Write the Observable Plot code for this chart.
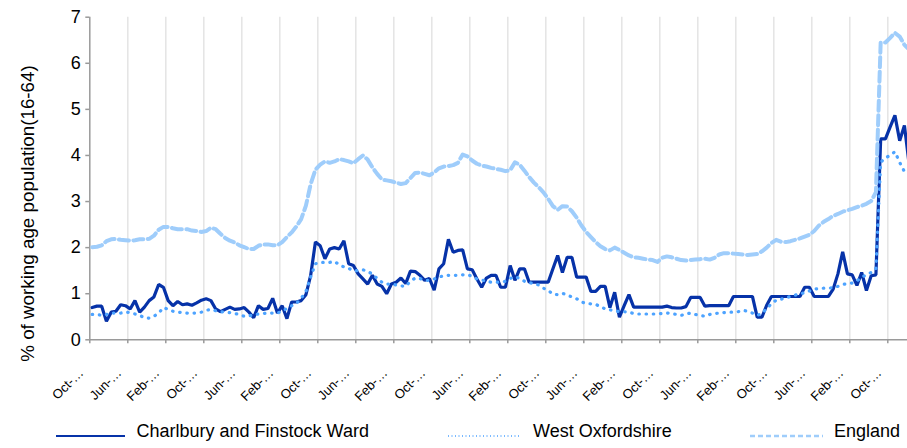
<!DOCTYPE html>
<html><head><meta charset="utf-8">
<script src="https://cdn.jsdelivr.net/npm/d3@7"></script>
<script src="https://cdn.jsdelivr.net/npm/@observablehq/plot@0.6"></script>
<style>
html,body{margin:0;padding:0;background:#fff;width:907px;height:448px;overflow:hidden;font-family:"Liberation Sans",Arial,sans-serif;}
#chart{position:absolute;left:0;top:0;}
#legend{position:absolute;left:0;top:412px;}
</style></head><body>
<div id="chart"></div>
<svg id="legend" width="907" height="36"></svg>
<script>
// Month categories are monthly; labels shown every 8 months
const tickLabels = ["Oct-…","Jun-…","Feb-…","Oct-…","Jun-…","Feb-…","Oct-…","Jun-…","Feb-…","Oct-…","Jun-…",
                    "Feb-…","Oct-…","Jun-…","Feb-…","Oct-…","Jun-…","Feb-…","Oct-…","Jun-…","Feb-…","Oct-…"];
const labelEvery = 8;

const charlbury = [
  0.70,0.73,0.73,0.40,0.60,0.62,0.76,0.74,
  0.67,0.85,0.60,0.71,0.85,0.93,1.20,1.14,
  0.85,0.74,0.83,0.76,0.78,0.75,0.80,0.86,
  0.89,0.85,0.67,0.61,0.66,0.71,0.66,0.67,
  0.70,0.60,0.48,0.74,0.66,0.68,0.90,0.58,
  0.74,0.46,0.82,0.82,0.85,0.98,1.40,2.12,
  2.04,1.76,1.97,2.00,1.97,2.15,1.65,1.61,
  1.43,1.32,1.21,1.40,1.21,1.16,1.00,1.21,
  1.25,1.34,1.22,1.49,1.48,1.40,1.29,1.33,
  1.08,1.54,1.65,2.18,1.90,1.94,1.95,1.54,
  1.52,1.32,1.14,1.34,1.40,1.40,1.14,1.14,
  1.61,1.29,1.54,1.54,1.25,1.25,1.25,1.25,
  1.25,1.54,1.83,1.46,1.79,1.79,1.36,1.36,
  1.36,1.05,1.05,1.16,1.16,0.70,1.03,0.49,
  0.74,0.98,0.71,0.71,0.71,0.71,0.71,0.71,
  0.71,0.73,0.70,0.69,0.69,0.72,0.92,0.92,
  0.92,0.73,0.74,0.74,0.74,0.74,0.74,0.94,
  0.94,0.94,0.94,0.94,0.49,0.49,0.75,0.94,
  0.94,0.94,0.94,0.94,0.94,0.94,1.14,1.14,
  0.94,0.94,0.94,0.94,1.10,1.43,1.91,1.43,
  1.41,1.18,1.46,1.07,1.39,1.41,4.36,4.36,
  4.62,4.87,4.32,4.65,3.80
];

const westOxfordshire = [
  0.55,0.55,0.53,0.55,0.58,0.58,0.58,0.60,
  0.59,0.56,0.53,0.48,0.47,0.51,0.58,0.70,
  0.66,0.62,0.60,0.59,0.58,0.58,0.58,0.60,
  0.64,0.66,0.63,0.61,0.60,0.59,0.57,0.55,
  0.51,0.52,0.54,0.56,0.57,0.58,0.58,0.58,
  0.62,0.68,0.74,0.79,0.90,1.05,1.36,1.65,
  1.68,1.68,1.68,1.70,1.63,1.58,1.55,1.50,
  1.50,1.52,1.48,1.43,1.33,1.25,1.21,1.21,
  1.19,1.17,1.16,1.27,1.34,1.33,1.29,1.29,
  1.32,1.36,1.39,1.40,1.40,1.40,1.41,1.41,
  1.38,1.32,1.30,1.27,1.25,1.25,1.25,1.27,
  1.33,1.37,1.33,1.27,1.24,1.22,1.19,1.12,
  1.07,0.99,0.98,1.01,0.97,0.93,0.89,0.82,
  0.79,0.78,0.77,0.72,0.67,0.65,0.63,0.61,
  0.61,0.60,0.57,0.56,0.56,0.56,0.56,0.56,
  0.57,0.58,0.57,0.55,0.53,0.56,0.58,0.55,
  0.53,0.51,0.55,0.57,0.58,0.59,0.60,0.60,
  0.61,0.64,0.62,0.58,0.53,0.57,0.68,0.78,
  0.86,0.88,0.91,0.94,0.97,1.00,1.02,1.06,
  1.10,1.11,1.12,1.12,1.13,1.16,1.20,1.22,
  1.23,1.28,1.35,1.42,1.46,1.55,3.85,3.95,
  4.00,4.08,3.85,3.65,3.65
];

const england = [
  2.01,2.02,2.05,2.14,2.18,2.19,2.17,2.16,
  2.15,2.16,2.18,2.18,2.19,2.26,2.39,2.45,
  2.45,2.42,2.40,2.40,2.40,2.37,2.36,2.34,
  2.36,2.43,2.40,2.30,2.21,2.15,2.11,2.05,
  2.01,1.97,1.97,2.04,2.07,2.07,2.05,2.05,
  2.12,2.23,2.33,2.46,2.62,2.91,3.38,3.69,
  3.80,3.87,3.84,3.87,3.92,3.90,3.87,3.83,
  3.92,4.00,3.91,3.74,3.60,3.48,3.46,3.44,
  3.41,3.38,3.40,3.51,3.62,3.63,3.60,3.57,
  3.63,3.72,3.76,3.77,3.79,3.84,4.02,3.98,
  3.89,3.82,3.78,3.76,3.73,3.71,3.69,3.66,
  3.68,3.85,3.80,3.67,3.53,3.41,3.31,3.20,
  3.06,2.90,2.82,2.90,2.89,2.79,2.65,2.48,
  2.34,2.23,2.12,2.03,1.97,1.94,2.00,1.95,
  1.89,1.83,1.79,1.78,1.76,1.74,1.73,1.69,
  1.78,1.81,1.79,1.76,1.73,1.72,1.73,1.74,
  1.75,1.76,1.74,1.78,1.85,1.88,1.88,1.87,
  1.86,1.85,1.84,1.85,1.86,1.92,2.00,2.10,
  2.17,2.13,2.12,2.14,2.17,2.20,2.24,2.28,
  2.36,2.48,2.56,2.62,2.69,2.73,2.78,2.81,
  2.84,2.88,2.91,2.95,3.01,3.20,6.45,6.45,
  6.55,6.66,6.58,6.40,6.30
];

const seriesNames = ["Charlbury and Finstock Ward", "West Oxfordshire", "England"];
const yTicks = [0,1,2,3,4,5,6,7];

const colors = {charlbury: "#0632a8", wo: "#4da3ff", eng: "#9fcdfb"};
const nCat = charlbury.length;
const stepPx = 4.75, leftPx = 89.3, topPx = 16.7, axisYpx = 339.3, svgH = 412;
const boundaries = tickLabels.map((_, k) => k * labelEvery - 0.5);
const labelIdx = tickLabels.map((_, k) => k * labelEvery);
const idx = (d, i) => i;
const val = d => d;

const chart = Plot.plot({
  width: 907, height: svgH,
  marginLeft: leftPx, marginRight: 0, marginTop: topPx, marginBottom: svgH - axisYpx,
  x: {type: "linear", domain: [-0.5, nCat - 0.5], range: [leftPx, leftPx + nCat * stepPx], axis: null},
  y: {domain: [0, 7], axis: null},
  style: {fontFamily: '"Liberation Sans", Arial, sans-serif', fontSize: "18px", overflow: "hidden", background: "white", color: "#000"},
  marks: [
    Plot.ruleX(boundaries.slice(1), {y1: 0, y2: 7, stroke: "#e4e4e4", strokeWidth: 1.5}),
    Plot.ruleX([-0.5], {y1: 0, y2: 7, stroke: "#9a9a9a", strokeWidth: 1.5}),
    Plot.ruleY([0], {stroke: "#9a9a9a", strokeWidth: 1.5}),
    Plot.axisX({ticks: boundaries, tickSize: 4, tickFormat: () => "", stroke: "#9a9a9a", strokeWidth: 1.5}),
    Plot.axisY({ticks: yTicks, tickFormat: "d", tickSize: 4, tickPadding: 5, stroke: "#9a9a9a", strokeWidth: 1.5, fill: "#000", fontSize: 18, label: null}),
    Plot.text(tickLabels, {x: (d, k) => labelIdx[k], text: d => d, frameAnchor: "bottom", rotate: -45, textAnchor: "end", lineAnchor: "middle", dx: -11, dy: 31, fontSize: 13, fill: "#000"}),
    Plot.text(["% of working age population(16-64)"], {frameAnchor: "left", text: d => d, rotate: -90, textAnchor: "middle", lineAnchor: "middle", dx: -62, dy: 35, fontSize: 18.8, fill: "#000"}),
    Plot.lineY(charlbury, {x: idx, y: val, stroke: colors.charlbury, strokeWidth: 3.2, strokeLinejoin: "miter"}),
    Plot.lineY(westOxfordshire, {x: idx, y: val, stroke: colors.wo, strokeWidth: 3.2, strokeDasharray: "0.5,6.7", strokeLinecap: "round"}),
    Plot.lineY(england, {x: idx, y: val, stroke: colors.eng, strokeWidth: 4, strokeDasharray: "10,4.5"})
  ]
});
document.getElementById("chart").appendChild(chart);

// Legend below the chart
const lg = d3.select("#legend");
const items = [
  {name: seriesNames[0], color: colors.charlbury, x1: 56, x2: 125, tx: 136.5, w: 2, dash: null},
  {name: seriesNames[1], color: colors.wo, x1: 448, x2: 520, tx: 533, w: 1.5, dash: "1,2.5"},
  {name: seriesNames[2], color: colors.eng, x1: 750, x2: 823, tx: 834, w: 2.5, dash: "5,3"}
];
const legLineY = 436 - 412, legTextY = 437 - 412;
items.forEach(it => {
  lg.append("line").attr("x1", it.x1).attr("x2", it.x2).attr("y1", legLineY).attr("y2", legLineY)
    .attr("stroke", it.color).attr("stroke-width", it.w).attr("stroke-dasharray", it.dash);
  lg.append("text").attr("x", it.tx).attr("y", legTextY).attr("font-size", 18)
    .attr("font-family", '"Liberation Sans", Arial, sans-serif').attr("fill", "#000").text(it.name);
});
</script>
</body></html>
